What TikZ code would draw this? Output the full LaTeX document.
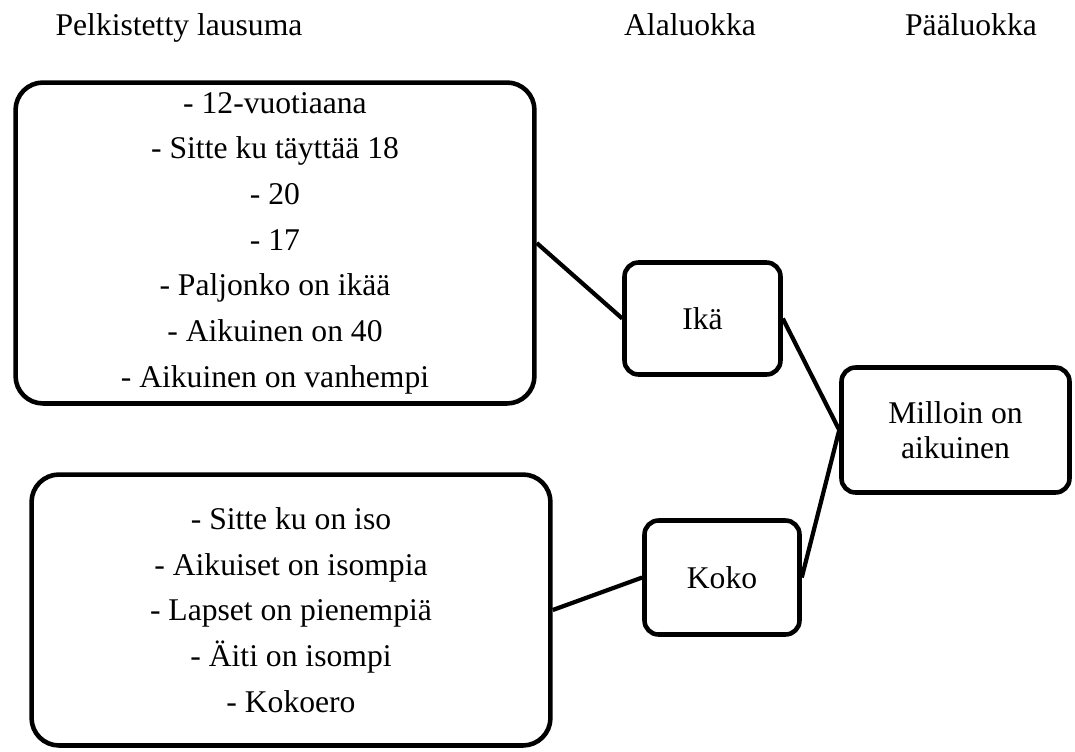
\documentclass[tikz,border=0pt]{standalone}
\usepackage{fontspec}
\setmainfont{Liberation Serif}

\begin{document}
\begin{tikzpicture}[x=0.02cm, y=-0.02cm,
  otsikko/.style={anchor=base, inner sep=0pt, font=\fontsize{18}{22}\selectfont},
  isolaatikko/.style={draw, line width=2.6pt, rounded corners=0.55cm, inner sep=0pt,
    align=center, font=\fontsize{18}{26}\selectfont, minimum width=10.38cm},
  luokka/.style={draw, line width=2.6pt, rounded corners=0.28cm, inner sep=0pt,
    align=center, font=\fontsize{18}{20}\selectfont},
  yhteys/.style={line width=2.4pt}]
  \useasboundingbox (0,0) rectangle (1075,751);
  \node[otsikko] (pelkistetty) at (179,35) {Pelkistetty lausuma};
  \node[otsikko] (alaluokka) at (690,35) {Alaluokka};
  \node[otsikko] (paaluokka) at (971,35) {Pääluokka};
  \node[isolaatikko, minimum height=6.42cm] (ikalista) at (275,243)
    {- 12-vuotiaana\\ - Sitte ku täyttää 18\\ - 20\\ - 17\\ - Paljonko on ikää\\
     - Aikuinen on 40\\ - Aikuinen on vanhempi};
  \node[isolaatikko, minimum height=5.42cm] (kokolista) at (291,610)
    {- Sitte ku on iso\\ - Aikuiset on isompia\\ - Lapset on pienempiä\\
     - Äiti on isompi\\ - Kokoero};
  \node[luokka, minimum width=3.12cm, minimum height=2.24cm] (ika) at (702.5,318.5) {Ikä};
  \node[luokka, minimum width=3.1cm, minimum height=2.28cm] (koko) at (722,577.5) {Koko};
  \node[luokka, minimum width=4.56cm, minimum height=2.5cm] (milloin) at (955.5,430)
    {Milloin on\\ aikuinen};
  \draw[yhteys] (ikalista.east) -- (ika.west);
  \draw[yhteys] (kokolista.east) -- (koko.west);
  \draw[yhteys] (ika.east) -- (milloin.west);
  \draw[yhteys] (koko.east) -- (milloin.west);
\end{tikzpicture}
\end{document}
